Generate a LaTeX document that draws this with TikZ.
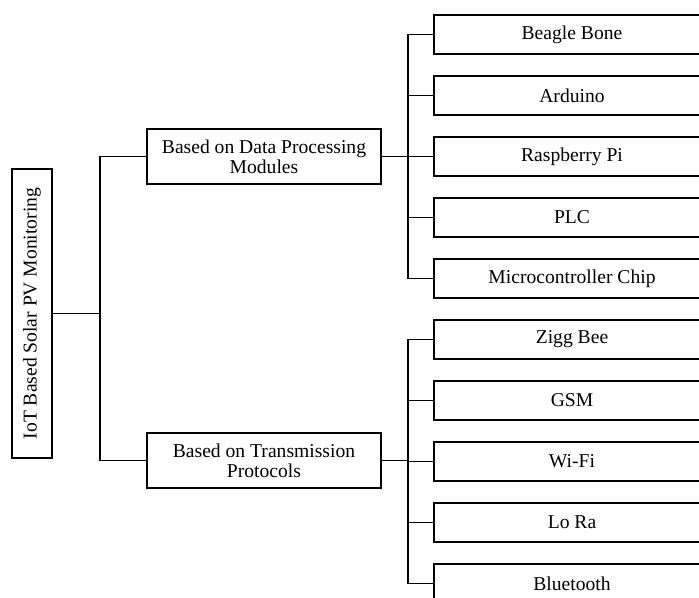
\documentclass[tikz,border=0pt]{standalone}
\usepackage{fontspec}
\setmainfont{Liberation Serif}
\begin{document}
\begin{tikzpicture}[x=0.75pt,y=-0.75pt,
  line width=1pt,
  every node/.style={font=\fontsize{14.7pt}{15pt}\selectfont},
  leaf/.style={draw,rectangle,minimum width=207pt,minimum height=29.25pt,inner sep=0pt},
  mid/.style={draw,rectangle,minimum width=175.5pt,minimum height=41.25pt,inner sep=0pt,align=center},
  rootbox/.style={draw,rectangle,minimum width=216.75pt,minimum height=30pt,inner sep=0pt,rotate=90},
  link/.style={draw,line width=1pt}]
\useasboundingbox (0,0) rectangle (699,597);
\clip (0,0) rectangle (699,597);
\node[rootbox] (root) at (32,313.5) {IoT Based Solar PV Monitoring};
\node[mid] (m1) at (264,156.5) {Based on Data Processing\\Modules};
\node[mid] (m2) at (264,460.5) {Based on Transmission\\Protocols};
\foreach \t [count=\i from 0] in {Beagle Bone,Arduino,Raspberry Pi,PLC,Microcontroller Chip,Zigg Bee,GSM,Wi-Fi,Lo Ra,Bluetooth}
  \node[leaf] (r\i) at (572,34.5+61*\i) {\t};
\coordinate (jL) at (100,313.5);
\coordinate (b1) at (408,156.5);
\coordinate (b2) at (408,460.5);
\draw[link] (root.south) -- (jL);
\draw[link] (jL) |- (m1.west);
\draw[link] (jL) |- (m2.west);
\draw[link] (m1.east) -- (b1);
\draw[link] (m2.east) -- (b2);
\foreach \i in {0,...,4} \draw[link] (b1) |- (r\i.west);
\foreach \i in {5,...,9} \draw[link] (b2) |- (r\i.west);
\end{tikzpicture}
\end{document}
